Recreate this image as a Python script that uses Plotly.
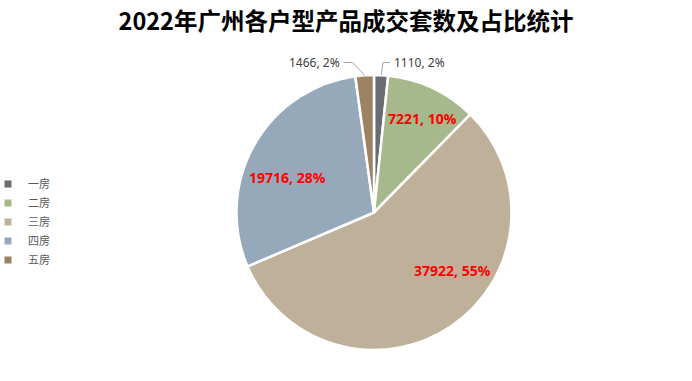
import math
import plotly.graph_objects as go

categories = ["一房", "二房", "三房", "四房", "五房"]
values = [1110, 7221, 37922, 19716, 1466]
pct_labels = ["2%", "10%", "55%", "28%", "2%"]
colors = ["#6b6b73", "#a6b88c", "#bfb09a", "#95a9bb", "#9d8264"]
title_text = "2022年广州各户型产品成交套数及占比统计"

W, H = 692, 381
cx, cy, R = 374, 212.5, 137.5

# label style: inside (radius fraction, angle tweak) or outside (elbow offset, run length)
label_style = [
    ("out", 2.0, 7.0),
    ("in", 0.77, 2.0),
    ("in", 0.71, -19.0),
    ("in", 0.68, -7.5),
    ("out", 12.0, 9.0),
]


def px2paper(x, y):
    return x / W, 1 - y / H


fig = go.Figure()
fig.add_trace(go.Pie(
    labels=categories, values=values, sort=False, direction="clockwise", rotation=0,
    marker=dict(colors=colors, line=dict(color="white", width=2.5)),
    textinfo="none", hoverinfo="label+value", showlegend=False,
    domain=dict(x=[(cx - R) / W, (cx + R) / W], y=[1 - (cy + R) / H, 1 - (cy - R) / H]),
))

for cat, col in zip(categories, colors):
    fig.add_trace(go.Scatter(x=[None], y=[None], mode="markers", name=cat,
                             marker=dict(symbol="square", size=7, color=col)))

total = sum(values)
cum = 0
annotations = []
shapes = []
for v, p, (kind, a, b) in zip(values, pct_labels, label_style):
    mid = (cum + v / 2) / total * 360
    cum += v
    text = f"{v}, {p}"
    if kind == "in":
        th = math.radians(mid + b)
        x = cx + R * a * math.sin(th)
        y = cy - R * a * math.cos(th)
        xp, yp = px2paper(x, y)
        annotations.append(dict(x=xp, y=yp, xref="paper", yref="paper", text=f"<b>{text}</b>",
                                xanchor="center", yanchor="middle", showarrow=False,
                                font=dict(family="Noto Sans", size=14, color="#ff0000")))
    else:
        th = math.radians(mid)
        s = 1 if math.sin(th) > 0 else -1
        ex = cx + R * math.sin(th)
        ey = cy - R * math.cos(th)
        elx = ex + s * a
        ely = cy - R - 12.5
        enx = elx + s * b
        for (x0, y0, x1, y1) in [(ex, ey, elx, ely), (elx, ely, enx, ely)]:
            a0 = px2paper(x0, y0)
            a1 = px2paper(x1, y1)
            shapes.append(dict(type="line", xref="paper", yref="paper", x0=a0[0], y0=a0[1],
                               x1=a1[0], y1=a1[1], line=dict(color="#a6a6a6", width=1)))
        lx, ly = px2paper(enx + s * 2, ely)
        annotations.append(dict(x=lx, y=ly, xref="paper", yref="paper", text=text, showarrow=False,
                                xanchor="left" if s > 0 else "right", yanchor="middle",
                                font=dict(family="Noto Sans", size=12, color="#404040")))

fig.update_layout(
    width=W, height=H, margin=dict(l=0, r=0, t=0, b=0, autoexpand=False),
    paper_bgcolor="white", plot_bgcolor="white",
    title=dict(text=f"<b>{title_text}</b>", x=0.5, xanchor="center", y=1 - 22 / H, yanchor="middle",
               font=dict(family="Noto Sans CJK SC", size=23.5, color="#000000")),
    xaxis=dict(visible=False), yaxis=dict(visible=False),
    legend=dict(x=-12 / W, xanchor="left", y=1 - 169.5 / H, yanchor="top",
                font=dict(family="Noto Sans CJK SC", size=11, color="#595959"),
                bgcolor="rgba(0,0,0,0)", tracegroupgap=0),
    annotations=annotations, shapes=shapes,
)

fig.write_html("out.html")
